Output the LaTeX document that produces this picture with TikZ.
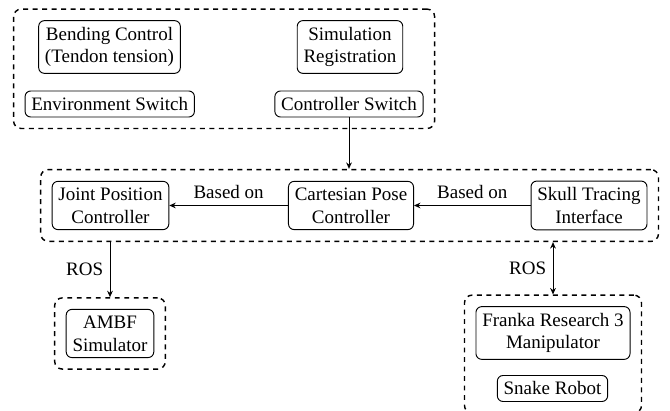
\documentclass[tikz,border=0pt]{standalone}
\usepackage{fontspec}
\setmainfont{Liberation Serif}[Ligatures=TeX]
\newfontfamily\tnr{Liberation Serif}
\usetikzlibrary{arrows.meta,fit}
\tikzset{
  blk/.style={draw, rounded corners=3pt, align=center, line width=0.5pt, inner sep=0.3333em},
  grp/.style={draw, dash pattern=on 2.6pt off 2.4pt, rounded corners=4pt, line width=0.75pt, inner sep=5.8pt},
  arr/.style={-{Stealth[length=3.4pt,width=3pt]}, line width=0.5pt},
  biarr/.style={{Stealth[length=3.4pt,width=3pt]}-{Stealth[length=3.4pt,width=3pt]}, line width=0.5pt},
  lbl/.style={font=\tnr\fontsize{10}{12}\selectfont}
}
\begin{document}
\begin{tikzpicture}[x=0.5263pt, y=-0.5263pt, font=\tnr\fontsize{10}{12}\selectfont]
\useasboundingbox (0,0) rectangle (670,411);
% top group
\node[blk] (bend) at (109.5,47) {Bending Control\\(Tendon tension)};
\node[blk] (sim) at (350,47) {Simulation\\Registration};
\node[blk] (env) at (109.75,104) {Environment Switch};
\node[blk] (ctrl) at (349,104) {Controller Switch};
\node[grp, fit=(bend)(sim)(env)(ctrl)] (topbox) {};
% middle group
\node[blk] (joint) at (110.5,205.5) {Joint Position\\Controller};
\node[blk] (cart) at (351,205.5) {Cartesian Pose\\Controller};
\node[blk] (skull) at (589,205.5) {Skull Tracing\\Interface};
\node[grp, fit=(joint)(cart)(skull)] (midbox) {};
% AMBF group
\node[blk] (ambf) at (110,333.5) {AMBF\\Simulator};
\node[grp, fit=(ambf)] (ambfbox) {};
% robot group
\node[blk] (franka) at (553,333) {Franka Research 3\\Manipulator};
\node[blk] (snake) at (552.5,388.5) {Snake Robot};
\node[grp, fit=(franka)(snake)] (robbox) {};
% connectors
\draw[arr] (ctrl.south) -- (ctrl.south |- midbox.north);
\draw[arr] (cart.west) -- node[above, lbl] {Based on} (joint.east);
\draw[arr] (skull.west) -- node[above, lbl] {Based on} (cart.east);
\draw[arr] (ambfbox.north |- midbox.south) -- node[left, lbl] {ROS} (ambfbox.north);
\draw[biarr] (robbox.north |- midbox.south) -- node[left, lbl] {ROS} (robbox.north);
\end{tikzpicture}
\end{document}
